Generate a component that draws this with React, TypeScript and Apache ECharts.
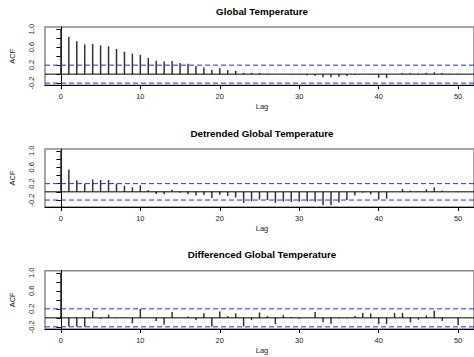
import React, { useEffect, useRef } from "react";
import * as echarts from "echarts";

const lags = [0, 1, 2, 3, 4, 5, 6, 7, 8, 9, 10, 11, 12, 13, 14, 15, 16, 17, 18, 19, 20, 21, 22, 23, 24, 25, 26, 27, 28, 29, 30, 31, 32, 33, 34, 35, 36, 37, 38, 39, 40, 41, 42, 43, 44, 45, 46, 47, 48, 49, 50];

const acfGlobal = [1.0, 0.83, 0.73, 0.66, 0.67, 0.64, 0.62, 0.56, 0.5, 0.455, 0.43, 0.36, 0.3, 0.28, 0.29, 0.25, 0.23, 0.18, 0.15, 0.1, 0.13, 0.09, 0.075, 0.03, 0.03, 0.025, 0.01, 0.005, 0.0, -0.01, -0.015, -0.03, -0.035, -0.07, -0.07, -0.06, -0.04, -0.02, -0.01, -0.01, -0.08, -0.085, 0.005, 0.02, 0.02, 0.015, 0.03, 0.04, 0.02, 0.01, 0.01];

const acfDetrended = [1.0, 0.545, 0.28, 0.2, 0.3, 0.29, 0.29, 0.2, 0.15, 0.11, 0.16, 0.04, -0.05, -0.06, 0.05, -0.02, -0.06, -0.09, -0.08, -0.15, -0.07, -0.1, -0.14, -0.27, -0.23, -0.19, -0.2, -0.27, -0.24, -0.25, -0.24, -0.23, -0.24, -0.33, -0.32, -0.26, -0.2, -0.09, -0.02, -0.06, -0.19, -0.17, 0.0, 0.07, 0.03, 0.015, 0.06, 0.11, 0.03, 0.0, -0.01];

const acfDifferenced = [1.0, -0.2, -0.2, -0.2, 0.15, -0.02, 0.07, -0.01, 0.01, -0.12, 0.2, 0.0, -0.07, -0.15, 0.13, 0.0, 0.03, -0.05, 0.1, -0.19, 0.14, 0.04, 0.1, -0.19, -0.05, 0.12, 0.04, -0.14, 0.06, 0.02, -0.02, 0.0, 0.13, -0.1, -0.13, -0.01, -0.01, 0.04, 0.11, 0.1, -0.14, -0.14, 0.11, 0.11, -0.1, -0.04, 0.05, 0.16, -0.07, 0.0, -0.16];

const titles = ["Global Temperature", "Detrended Global Temperature", "Differenced Global Temperature"];
const confLimit = 0.2;
const xTicks = [0, 10, 20, 30, 40, 50];
const yTicks = [-0.2, 0, 0.2, 0.4, 0.6, 0.8, 1.0];
const yLabels = [-0.2, 0.2, 0.6, 1.0];
const xRange = [-2, 52];

const FONT = "'Liberation Sans', Arial, sans-serif";
const BLUE = "#1f2cf5";

const layout = [
  { top: 27, height: 58.3, min: -0.248, max: 1.048 },
  { top: 149, height: 58, min: -0.37, max: 1.045 },
  { top: 270.7, height: 58.3, min: -0.248, max: 1.048 },
];
const series = [acfGlobal, acfDetrended, acfDifferenced];

function hline(i: number, y: number, color: string, type: any) {
  return {
    type: "line",
    xAxisIndex: i,
    yAxisIndex: i,
    data: [[xRange[0], y], [xRange[1], y]],
    showSymbol: false,
    symbol: "none",
    silent: true,
    lineStyle: { color, width: 1, type },
    itemStyle: { color },
    z: 3,
  };
}

function buildOption() {
  const grids: any[] = [];
  const xAxes: any[] = [];
  const yAxes: any[] = [];
  const ser: any[] = [];
  const graphics: any[] = [];
  layout.forEach((p, i) => {
    grids.push({
      left: 45,
      top: p.top,
      width: 433.4,
      height: p.height,
      show: true,
      borderColor: "#888",
      borderWidth: 1.5,
      backgroundColor: "transparent",
    });
    xAxes.push({
      type: "value",
      gridIndex: i,
      min: xRange[0],
      max: xRange[1],
      axisLine: { show: true, onZero: false, lineStyle: { color: "#000", width: 1 } },
      axisTick: { show: true, customValues: xTicks, length: 4, lineStyle: { color: "#000" } },
      axisLabel: {
        show: true,
        customValues: xTicks,
        fontSize: 7.5,
        fontFamily: FONT,
        color: "#222",
        margin: 7,
      },
      splitLine: { show: false },
    });
    yAxes.push({
      type: "value",
      gridIndex: i,
      min: p.min,
      max: p.max,
      axisLine: { show: true, lineStyle: { color: "#000", width: 1 } },
      axisTick: { show: true, customValues: yTicks, length: 4.5, lineStyle: { color: "#000" } },
      axisLabel: {
        show: true,
        customValues: yLabels,
        rotate: 90,
        fontSize: 7.5,
        fontFamily: FONT,
        color: "#222",
        margin: 10,
        formatter: (v: number) => v.toFixed(1),
      },
      splitLine: { show: false },
    });
    ser.push({
      type: "bar",
      xAxisIndex: i,
      yAxisIndex: i,
      data: lags.map((l, k) => [l, series[i][k]]),
      barWidth: 1.5,
      itemStyle: { color: "#333" },
      silent: true,
      z: 2,
    });
    ser.push(hline(i, 0, "#000", "solid"));
    ser.push(hline(i, confLimit, BLUE, [5, 3]));
    ser.push(hline(i, -confLimit, BLUE, [5, 3]));
    const bottom = p.top + p.height;
    graphics.push({
      type: "text",
      x: 262,
      y: p.top - 16,
      style: {
        text: titles[i],
        font: `bold 9.8px ${FONT}`,
        fill: "#000",
        textAlign: "center",
        textVerticalAlign: "middle",
      },
    });
    graphics.push({
      type: "text",
      x: 262,
      y: bottom + 21.5,
      style: {
        text: "Lag",
        font: `7.5px ${FONT}`,
        fill: "#222",
        textAlign: "center",
        textVerticalAlign: "middle",
      },
    });
    graphics.push({
      type: "text",
      x: 12,
      y: p.top + p.height / 2,
      rotation: Math.PI / 2,
      style: {
        text: "ACF",
        font: `7.5px ${FONT}`,
        fill: "#222",
        textAlign: "center",
        textVerticalAlign: "middle",
      },
    });
  });
  return {
    animation: false,
    backgroundColor: "#fff",
    grid: grids,
    xAxis: xAxes,
    yAxis: yAxes,
    series: ser,
    graphic: graphics,
  };
}

export default function App() {
  const ref = useRef<HTMLDivElement>(null);
  useEffect(() => {
    const chart = echarts.init(ref.current!, null, { renderer: "svg" });
    chart.setOption(buildOption() as any);
    return () => chart.dispose();
  }, []);
  return (
    <div
      ref={ref}
      style={{ position: "fixed", left: 0, top: 0, width: 474, height: 357, background: "#fff" }}
    />
  );
}
